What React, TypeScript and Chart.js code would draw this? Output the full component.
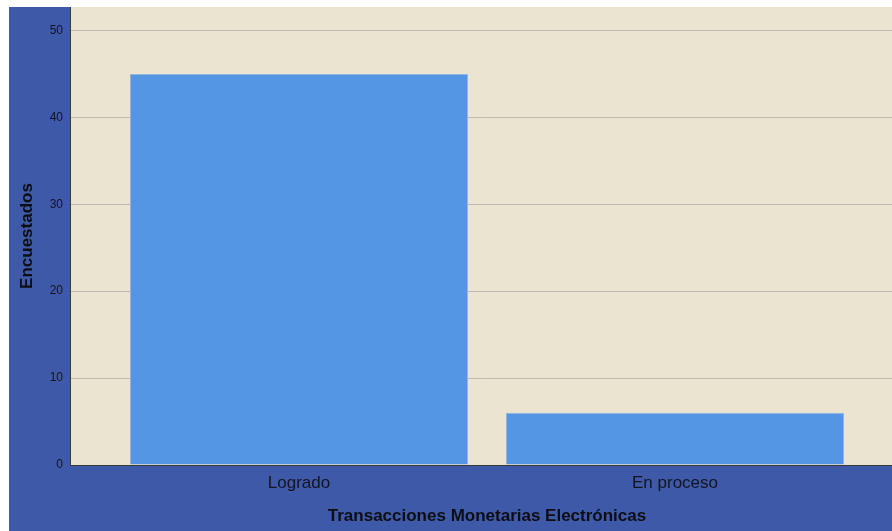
import React, { useEffect, useRef } from "react";
import { Chart, registerables } from "chart.js";

Chart.register(...registerables);

const categories = ["Logrado", "En proceso"];
const values = [45, 6];
const yTickStep = 10;
const yMax = 52.7;
const xTitle = "Transacciones Monetarias Electrónicas";
const yTitle = "Encuestados";

const plotBg = {
  id: "plotBg",
  beforeDraw(chart: any) {
    const { ctx, chartArea } = chart;
    ctx.save();
    ctx.fillStyle = "#EBE4D0";
    ctx.fillRect(chartArea.left, chartArea.top, chartArea.right - chartArea.left, chartArea.bottom - chartArea.top);
    ctx.restore();
  },
};

export default function App() {
  const ref = useRef<HTMLCanvasElement>(null);
  useEffect(() => {
    if (!ref.current) return;
    const font = "'Liberation Sans', Arial, sans-serif";
    const chart = new Chart(ref.current, {
      type: "bar",
      data: {
        datasets: [
          {
            data: values.map((v, i) => ({ x: i, y: v })),
            backgroundColor: "#5496E3",
            borderColor: "#93B7E2",
            borderWidth: { top: 1, left: 1, right: 1, bottom: 0 },
            categoryPercentage: 1,
            barPercentage: 0.899,
          },
        ],
      },
      options: {
        animation: false,
        responsive: false,
        layout: { padding: 0 },
        plugins: { legend: { display: false }, tooltip: { enabled: false } },
        scales: {
          x: {
            type: "linear",
            offset: false,
            min: -0.609,
            max: 1.609,
            afterBuildTicks: (s: any) => {
              s.ticks = categories.map((_, i) => ({ value: i }));
            },
            afterFit: (s: any) => {
              s.height = 66;
              s.paddingLeft = 0;
              s.paddingRight = 0;
            },
            grid: { display: false, drawTicks: false },
            border: { display: true, color: "#3a3a3a", width: 1 },
            ticks: {
              padding: 8,
              color: "#141420",
              font: { family: font, size: 17 },
              callback: (v: any) => categories[v] ?? "",
            },
            title: {
              display: true,
              text: xTitle,
              color: "#0d0d12",
              font: { family: font, size: 17, weight: "bold" },
              padding: { top: 0, bottom: 4 },
            },
          },
          y: {
            min: 0,
            max: yMax,
            afterBuildTicks: (s: any) => {
              s.ticks = s.ticks.filter((t: any) => t.value % yTickStep === 0);
            },
            afterFit: (s: any) => {
              s.width = 61;
              s.paddingTop = 0;
              s.paddingBottom = 0;
            },
            grid: {
              color: (c: any) => (c.tick && c.tick.value === 0 ? "rgba(0,0,0,0)" : "#BEBAB0"),
              lineWidth: 1,
              drawTicks: false,
            },
            border: { display: true, color: "#3a3a3a", width: 1 },
            ticks: {
              stepSize: yTickStep,
              padding: 7,
              color: "#141420",
              font: { family: font, size: 12 },
            },
            title: {
              display: true,
              text: yTitle,
              color: "#0d0d12",
              font: { family: font, size: 17, weight: "bold" },
              padding: { top: 8, bottom: 0 },
            },
          },
        },
      },
      plugins: [plotBg],
    } as any);
    return () => chart.destroy();
  }, []);
  return (
    <div
      style={{
        position: "absolute",
        left: 9,
        top: 7,
        width: 883,
        height: 524,
        overflow: "hidden",
        background: "#3E59A7",
      }}
    >
      <canvas ref={ref} width={895} height={524} style={{ display: "block" }} />
    </div>
  );
}
